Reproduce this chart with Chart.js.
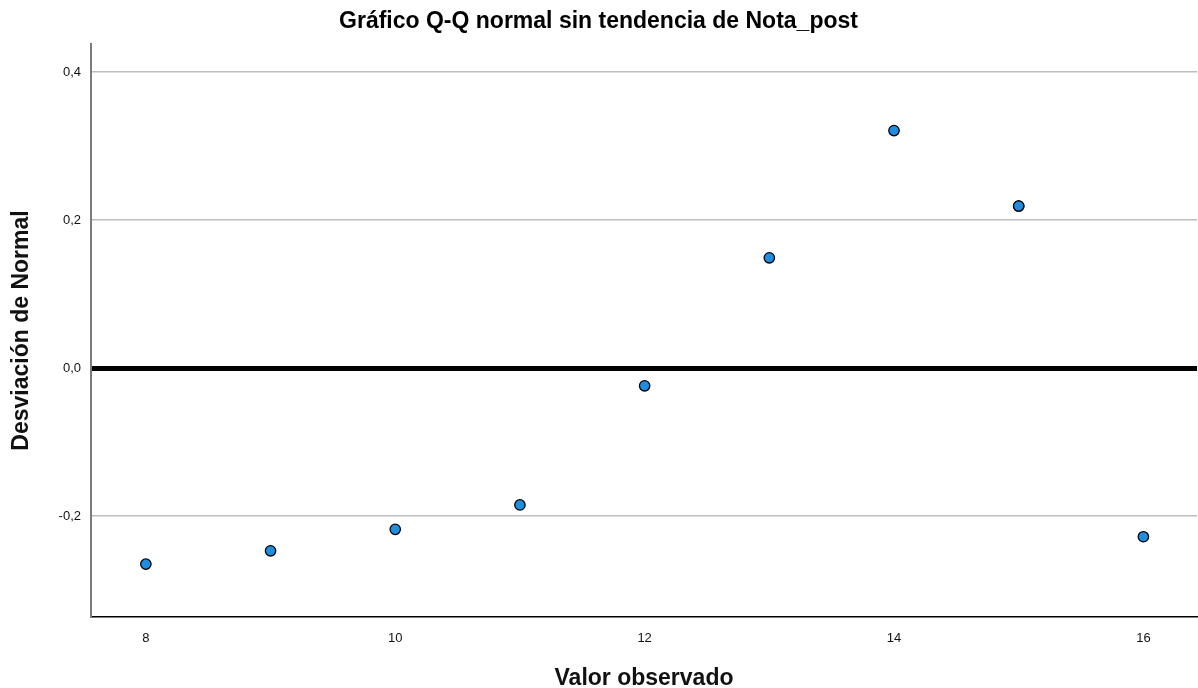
<!DOCTYPE html>
<html>
<head>
<meta charset="utf-8">
<script src="https://cdn.jsdelivr.net/npm/chart.js@4"></script>
<style>
html,body{margin:0;padding:0;background:#fff;overflow:hidden;}
#wrap{width:1198px;height:688px;position:relative;}
</style>
</head>
<body>
<div id="wrap"><canvas id="c"></canvas></div>
<script>
const chartTitle = 'Gráfico Q-Q normal sin tendencia de Nota_post';
const xAxisTitle = 'Valor observado';
const yAxisTitle = 'Desviación de Normal';
const observedValues = [8, 9, 10, 11, 12, 13, 14, 15, 15, 16];
const deviationValues = [-0.265, -0.247, -0.218, -0.185, -0.024, 0.149, 0.321, 0.219, 0.219, -0.228];
const xTickValues = [8, 10, 12, 14, 16];
const yTickValues = [-0.2, 0.0, 0.2, 0.4];

const points = observedValues.map((x, i) => ({ x: x, y: deviationValues[i] }));
const fmt = v => (Math.abs(v) < 1e-9 ? 0 : v).toFixed(1).replace('.', ',');
const FONT = 'Liberation Sans, Arial, sans-serif';

new Chart(document.getElementById('c'), {
  type: 'scatter',
  data: {
    datasets: [{
      data: points,
      backgroundColor: '#1f8de0',
      borderColor: '#000',
      borderWidth: 1.3,
      pointRadius: 5.2,
      pointHoverRadius: 5.2
    }]
  },
  options: {
    responsive: true,
    maintainAspectRatio: false,
    animation: false,
    layout: { autoPadding: false, padding: { left: 0, right: 1, top: 0, bottom: 0 } },
    plugins: {
      legend: { display: false },
      tooltip: { enabled: false },
      title: {
        display: true,
        text: chartTitle,
        color: '#000',
        font: { family: FONT, size: 23, weight: 'bold', lineHeight: 1.2 },
        padding: { top: 8, bottom: 8.4 }
      }
    },
    scales: {
      x: {
        type: 'linear',
        min: 7.56,
        max: 16.43,
        afterBuildTicks: s => { s.ticks = xTickValues.map(v => ({ value: v })); },
        afterFit: s => { s.height = 71; },
        grid: { color: 'rgba(0,0,0,0)', drawTicks: false },
        border: { display: true, color: '#000', width: 1.5 },
        ticks: {
          padding: 14,
          color: '#111',
          font: { family: FONT, size: 13 },
          callback: v => String(v)
        },
        title: {
          display: true,
          text: xAxisTitle,
          color: '#111',
          font: { family: FONT, size: 23, weight: 'bold', lineHeight: 1.0 },
          padding: { top: 0, bottom: -2 }
        }
      },
      y: {
        type: 'linear',
        min: -0.3365,
        max: 0.438,
        afterBuildTicks: s => { s.ticks = yTickValues.map(v => ({ value: v })); },
        afterFit: s => { s.width = 91; },
        grid: {
          drawTicks: false,
          color: ctx => (ctx.tick && Math.abs(ctx.tick.value) < 1e-9) ? '#000' : '#bdbdbd',
          lineWidth: ctx => (ctx.tick && Math.abs(ctx.tick.value) < 1e-9) ? 5 : 1.5
        },
        border: { display: true, color: '#7a7a7a', width: 2 },
        ticks: {
          padding: 10,
          color: '#111',
          font: { family: FONT, size: 13 },
          callback: v => fmt(v)
        },
        title: {
          display: true,
          text: yAxisTitle,
          color: '#111',
          font: { family: FONT, size: 23, weight: 'bold', lineHeight: 1.0 },
          padding: { top: 10, bottom: 0 }
        }
      }
    }
  }
});
</script>
</body>
</html>
